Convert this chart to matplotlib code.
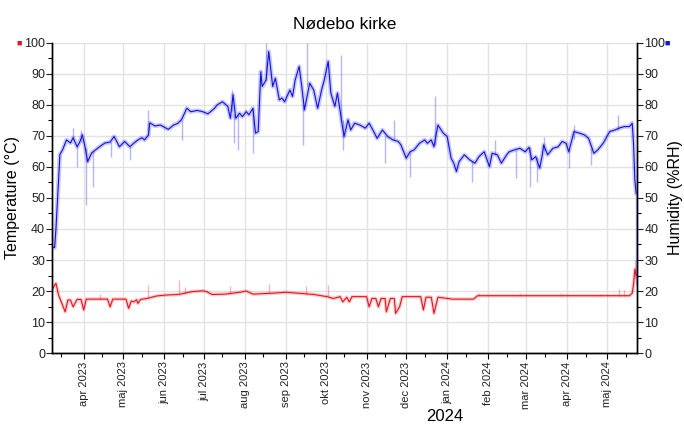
import matplotlib
matplotlib.use("Agg")
import matplotlib.pyplot as plt
import matplotlib.dates as mdates
import numpy as np
import pandas as pd

plt.rcParams["font.family"] = ["Liberation Sans", "DejaVu Sans"]

# humidity (%RH)
hum_dates = ["2023-03-08", "2023-03-10", "2023-03-11", "2023-03-13", "2023-03-14", "2023-03-16",
             "2023-03-19", "2023-03-22", "2023-03-24", "2023-03-27", "2023-03-29", "2023-03-31",
             "2023-04-02", "2023-04-04", "2023-04-07", "2023-04-10", "2023-04-13", "2023-04-17",
             "2023-04-21", "2023-04-24", "2023-04-26", "2023-04-28", "2023-05-02", "2023-05-06",
             "2023-05-09", "2023-05-12", "2023-05-15", "2023-05-17", "2023-05-20", "2023-05-21",
             "2023-05-25", "2023-05-29", "2023-06-01", "2023-06-04", "2023-06-08", "2023-06-11",
             "2023-06-14", "2023-06-18", "2023-06-21", "2023-06-26", "2023-06-30", "2023-07-04",
             "2023-07-09", "2023-07-11", "2023-07-15", "2023-07-19", "2023-07-21", "2023-07-23",
             "2023-07-25", "2023-07-28", "2023-07-30", "2023-08-02", "2023-08-04", "2023-08-07",
             "2023-08-09", "2023-08-11", "2023-08-13", "2023-08-14", "2023-08-17", "2023-08-19",
             "2023-08-22", "2023-08-24", "2023-08-27", "2023-08-29", "2023-08-31", "2023-09-04",
             "2023-09-06", "2023-09-08", "2023-09-11", "2023-09-13", "2023-09-15", "2023-09-19",
             "2023-09-22", "2023-09-25", "2023-09-28", "2023-09-30", "2023-10-03", "2023-10-05",
             "2023-10-08", "2023-10-10", "2023-10-13", "2023-10-15", "2023-10-18", "2023-10-20",
             "2023-10-23", "2023-10-27", "2023-10-31", "2023-11-03", "2023-11-07", "2023-11-09",
             "2023-11-13", "2023-11-17", "2023-11-21", "2023-11-25", "2023-11-27", "2023-12-01",
             "2023-12-04", "2023-12-07", "2023-12-11", "2023-12-15", "2023-12-17", "2023-12-20",
             "2023-12-22", "2023-12-25", "2023-12-29", "2024-01-01", "2024-01-04", "2024-01-06",
             "2024-01-08", "2024-01-10", "2024-01-14", "2024-01-18", "2024-01-22", "2024-01-25",
             "2024-01-29", "2024-02-02", "2024-02-04", "2024-02-08", "2024-02-11", "2024-02-15",
             "2024-02-17", "2024-02-21", "2024-02-25", "2024-02-29", "2024-03-03", "2024-03-05",
             "2024-03-08", "2024-03-11", "2024-03-13", "2024-03-14", "2024-03-17", "2024-03-21",
             "2024-03-25", "2024-03-28", "2024-03-31", "2024-04-02", "2024-04-06", "2024-04-10",
             "2024-04-14", "2024-04-17", "2024-04-21", "2024-04-24", "2024-04-28", "2024-05-03",
             "2024-05-07", "2024-05-10", "2024-05-14", "2024-05-18", "2024-05-20", "2024-05-21",
             "2024-05-22", "2024-05-23"]
hum_values = [34.3, 34.0, 40.0, 56.0, 64.0, 65.5,
              68.7, 67.7, 69.4, 66.5, 68.0, 70.3,
              66.5, 61.7, 64.5, 65.5, 66.5, 67.7,
              68.0, 69.8, 68.2, 66.5, 68.2, 66.5,
              67.7, 68.7, 69.4, 68.7, 70.3, 74.2,
              73.2, 73.5, 72.8, 72.1, 73.5, 74.0,
              75.2, 78.9, 77.8, 78.2, 77.8, 77.1,
              78.9, 80.0, 81.0, 79.5, 75.7, 83.2,
              75.7, 77.3, 76.2, 77.8, 76.8, 78.9,
              70.9, 71.4, 90.7, 85.9, 88.0, 97.2,
              85.9, 88.6, 81.6, 82.2, 81.0, 84.8,
              82.7, 88.0, 92.4, 85.9, 78.4, 87.0,
              84.8, 78.9, 84.8, 88.0, 94.0, 83.8,
              79.5, 83.8, 75.2, 69.8, 75.2, 71.9,
              74.1, 73.5, 72.5, 74.1, 70.9, 69.2,
              71.9, 69.8, 68.7, 68.2, 67.1, 62.8,
              64.9, 65.5, 67.6, 68.7, 67.6, 68.7,
              66.5, 73.5, 70.9, 69.8, 62.8, 61.2,
              58.5, 61.7, 63.9, 62.3, 61.2, 63.3,
              64.9, 60.1, 64.4, 63.9, 61.2, 63.9,
              64.9, 65.5, 66.0, 64.9, 66.3, 62.3,
              63.3, 59.6, 63.9, 67.1, 63.9, 66.0,
              66.5, 68.2, 67.6, 64.9, 71.4, 70.9,
              70.3, 69.2, 64.4, 65.5, 67.6, 71.4,
              71.9, 72.5, 73.0, 73.0, 74.1, 67.6,
              55.8, 51.5]

# pale min/max spikes around the humidity line
hum_spike_dates = ["2023-03-24", "2023-03-27", "2023-03-30", "2023-04-03", "2023-04-08", "2023-04-22",
                   "2023-05-06", "2023-05-20", "2023-06-14", "2023-07-22", "2023-07-24", "2023-07-27",
                   "2023-08-07", "2023-08-17", "2023-09-14", "2023-09-17", "2023-10-13", "2023-10-14",
                   "2023-11-15", "2023-11-22", "2023-12-04", "2023-12-23", "2024-01-20", "2024-02-06",
                   "2024-02-22", "2024-03-04", "2024-03-09", "2024-03-14", "2024-04-02", "2024-04-06",
                   "2024-04-19", "2024-05-09", "2024-05-23"]
hum_spike_lo = [69.0, 60.0, 68.0, 47.7, 53.6, 63.3,
                62.3, 70.3, 68.7, 78.0, 67.7, 65.5,
                64.5, 88.0, 67.0, 86.0, 75.2, 65.5,
                61.3, 68.7, 56.9, 67.0, 55.3, 63.9,
                56.4, 53.6, 55.3, 65.0, 59.6, 69.0,
                60.6, 72.0, 22.0]
hum_spike_hi = [72.6, 67.0, 72.0, 66.0, 65.0, 68.0,
                66.5, 78.4, 75.2, 84.8, 77.0, 77.3,
                78.9, 100.0, 80.0, 100.0, 96.0, 75.0,
                70.0, 75.2, 64.9, 82.7, 62.0, 68.7,
                65.5, 66.3, 63.3, 69.8, 66.0, 73.5,
                66.0, 76.8, 51.5]

# temperature (°C)
temp_dates = ["2023-03-08", "2023-03-11", "2023-03-13", "2023-03-15", "2023-03-18", "2023-03-20",
              "2023-03-22", "2023-03-24", "2023-03-27", "2023-03-30", "2023-04-01", "2023-04-03",
              "2023-04-19", "2023-04-21", "2023-04-23", "2023-05-03", "2023-05-05", "2023-05-07",
              "2023-05-09", "2023-05-11", "2023-05-12", "2023-05-14", "2023-05-19", "2023-05-26",
              "2023-06-02", "2023-06-12", "2023-06-22", "2023-06-30", "2023-07-03", "2023-07-07",
              "2023-07-17", "2023-07-28", "2023-08-02", "2023-08-07", "2023-08-22", "2023-09-01",
              "2023-09-10", "2023-09-22", "2023-10-02", "2023-10-07", "2023-10-12", "2023-10-14",
              "2023-10-17", "2023-10-19", "2023-10-21", "2023-11-01", "2023-11-03", "2023-11-05",
              "2023-11-08", "2023-11-10", "2023-11-12", "2023-11-15", "2023-11-16", "2023-11-19",
              "2023-11-22", "2023-11-23", "2023-11-26", "2023-11-28", "2023-12-12", "2023-12-14",
              "2023-12-16", "2023-12-20", "2023-12-22", "2023-12-25", "2024-01-05", "2024-01-21",
              "2024-01-24", "2024-03-03", "2024-05-18", "2024-05-20", "2024-05-21", "2024-05-22",
              "2024-05-23"]
temp_values = [20.5, 22.5, 18.7, 16.5, 13.3, 17.1,
               17.1, 14.9, 17.3, 17.3, 13.9, 17.4,
               17.4, 14.9, 17.4, 17.4, 14.4, 16.8,
               16.5, 17.2, 16.0, 17.3, 17.6, 18.4,
               18.7, 18.9, 19.8, 20.1, 19.8, 18.9,
               19.0, 19.6, 20.0, 19.0, 19.3, 19.6,
               19.3, 18.9, 18.2, 17.6, 18.2, 16.5,
               18.0, 16.5, 18.2, 18.2, 14.9, 17.6,
               17.6, 14.9, 17.6, 17.6, 13.3, 17.6,
               17.6, 12.8, 14.9, 18.2, 18.2, 13.9,
               18.0, 18.0, 12.8, 18.0, 17.4, 17.4,
               18.5, 18.5, 18.5, 19.3, 22.0, 27.0,
               25.0]

temp_spike_dates = ["2023-04-13", "2023-05-20", "2023-06-12", "2023-06-17", "2023-07-21", "2023-08-19",
                    "2023-09-16", "2023-10-03", "2024-01-25", "2024-02-25", "2024-03-27", "2024-04-26",
                    "2024-05-10", "2024-05-14", "2024-05-22"]
temp_spike_lo = [17.4, 17.6, 18.9, 19.2, 19.2, 19.3,
                 19.0, 18.2, 18.5, 18.5, 18.5, 18.5,
                 18.5, 18.5, 24.0]
temp_spike_hi = [19.0, 21.9, 23.5, 21.4, 21.6, 22.3,
                 21.6, 21.9, 19.5, 19.3, 19.5, 19.2,
                 20.5, 20.2, 30.0]

month_ticks = ["2023-04-01", "2023-05-01", "2023-06-01", "2023-07-01", "2023-08-01", "2023-09-01",
               "2023-10-01", "2023-11-01", "2023-12-01", "2024-01-01", "2024-02-01", "2024-03-01",
               "2024-04-01", "2024-05-01"]
month_labels = ["apr 2023", "maj 2023", "jun 2023", "jul 2023", "aug 2023", "sep 2023",
                "okt 2023", "nov 2023", "dec 2023", "jan 2024", "feb 2024", "mar 2024",
                "apr 2024", "maj 2024"]
x_start, x_end = "2023-03-08", "2024-05-24"

blue = "#1010e0"
red = "#e8141c"

fig = plt.figure(figsize=(6.84, 4.28), dpi=100)
ax = fig.add_axes([0.076, 0.175, 0.856, 0.725])
ax2 = ax.twinx()

hd = pd.to_datetime(hum_dates)
td = pd.to_datetime(temp_dates)

# humidity on right axis
ax2.vlines(pd.to_datetime(hum_spike_dates), hum_spike_lo, hum_spike_hi, color=blue, alpha=0.3, lw=1.0)
ax2.plot(hd, hum_values, color=blue, alpha=0.22, lw=3.2)
ax2.plot(hd, hum_values, color=blue, lw=0.8)

# temperature on left axis
ax.vlines(pd.to_datetime(temp_spike_dates), temp_spike_lo, temp_spike_hi, color=red, alpha=0.3, lw=1.0)
ax.plot(td, temp_values, color=red, alpha=0.22, lw=2.6)
ax.plot(td, temp_values, color=red, lw=0.8)

for a in (ax, ax2):
    a.set_ylim(0, 100)
    a.set_xlim(pd.Timestamp(x_start), pd.Timestamp(x_end))
    a.set_yticks(np.arange(0, 101, 10))
    a.set_yticks(np.arange(0, 101, 5), minor=True)
    a.tick_params(axis="y", labelsize=9, length=4, width=0.8, colors="#222222", pad=1)
    a.tick_params(axis="y", which="minor", length=3, width=0.8)
    a.spines["top"].set_visible(False)
    a.spines["left"].set_linewidth(1.0)
    a.spines["right"].set_linewidth(1.0)
    a.spines["bottom"].set_linewidth(1.0)

ax.set_xticks(pd.to_datetime(month_ticks))
ax.set_xticklabels(month_labels, rotation=90, fontsize=8, color="#222222")
ax.xaxis.set_minor_locator(mdates.DayLocator(bymonthday=15))
ax.tick_params(axis="x", length=4, width=0.8, pad=2)
ax.tick_params(axis="x", which="minor", length=3, width=0.8)

ax.grid(True, which="major", color="#e2e2e2", lw=1.0)
ax.set_axisbelow(True)

ax.set_ylabel("Temperature (°C)", fontsize=11.5, labelpad=3)
ax2.set_ylabel("Humidity (%RH)", fontsize=11.5, labelpad=2)
ax.set_xlabel("2024", fontsize=12)
ax.xaxis.set_label_coords(0.671, -0.18)
ax.set_title("Nødebo kirke", fontsize=12.5, pad=10)

# little legend squares by the top tick labels
fig.text(0.028, 0.899, "■", color=red, fontsize=6.5, ha="center", va="center")
fig.text(0.976, 0.899, "■", color=blue, fontsize=6.5, ha="center", va="center")

fig.savefig("out.png", dpi=100)
